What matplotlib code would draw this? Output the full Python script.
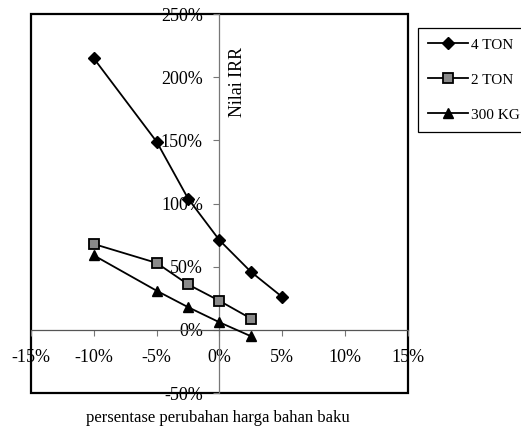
import matplotlib.pyplot as plt

# percentage change in raw material price
x_4ton = [-10, -5, -2.5, 0, 2.5, 5]
x_2ton = [-10, -5, -2.5, 0, 2.5]
x_300kg = [-10, -5, -2.5, 0, 2.5]

# IRR values (%)
irr_4ton = [215, 149, 104, 71, 46, 26]
irr_2ton = [68, 53, 36, 23, 9]
irr_300kg = [59, 31, 18, 6, -5]

series_labels = ['4 TON', '2 TON', '300 KG']
x_ticks = [-15, -10, -5, 0, 5, 10, 15]
y_ticks = [-50, 0, 50, 100, 150, 200, 250]

plt.rcParams['font.family'] = ['Liberation Serif', 'DejaVu Serif']

fig = plt.figure(figsize=(5.21, 4.30), dpi=100)
ax = fig.add_axes([0.0595, 0.086, 0.7235, 0.881])

# lines and markers
ax.plot(x_4ton, irr_4ton, color='black', lw=1.3, marker='D', ms=6,
        mfc='black', mec='black', label=series_labels[0], zorder=5)
ax.plot(x_2ton, irr_2ton, color='black', lw=1.3, marker='s', ms=7,
        mfc='#8a8a8a', mec='black', mew=1.3, label=series_labels[1], zorder=5)
ax.plot(x_300kg, irr_300kg, color='black', lw=1.3, marker='^', ms=7,
        mfc='black', mec='black', label=series_labels[2], zorder=5)

ax.set_xlim(-15, 15)
ax.set_ylim(-50, 250)
ax.set_xticks(x_ticks)
ax.set_yticks(y_ticks)
ax.set_xticklabels([f'{v}%' for v in x_ticks])
ax.set_yticklabels([f'{v}%' for v in y_ticks])

# axes crossing at zero, outer box drawn by the patch
ax.spines['left'].set_position(('data', 0))
ax.spines['bottom'].set_position(('data', 0))
ax.spines['top'].set_visible(False)
ax.spines['right'].set_visible(False)
ax.spines['left'].set_color('#777777')
ax.spines['bottom'].set_color('#555555')
ax.spines['left'].set_linewidth(0.9)
ax.spines['bottom'].set_linewidth(0.9)
ax.patch.set_edgecolor('black')
ax.patch.set_linewidth(1.6)

ax.tick_params(axis='both', direction='out', length=4, width=0.8,
               color='#777777', labelsize=13)
ax.tick_params(axis='y', pad=8)
ax.tick_params(axis='x', pad=10)

ax.text(1.45, 196, 'Nilai IRR', rotation=90, fontsize=13,
        ha='center', va='center')

fig.text(218 / 521, 1 - 418 / 430, 'persentase perubahan harga bahan baku',
         fontsize=12, ha='center', va='center')

leg = fig.legend(loc='upper left', bbox_to_anchor=(418 / 521, 1 - 28 / 430),
                 fontsize=11, handlelength=2.6, labelspacing=1.4,
                 handletextpad=0.2, borderpad=0.65, borderaxespad=0,
                 fancybox=False, framealpha=1, edgecolor='black')
leg.get_frame().set_linewidth(0.9)

fig.savefig('out.png', dpi=100)
